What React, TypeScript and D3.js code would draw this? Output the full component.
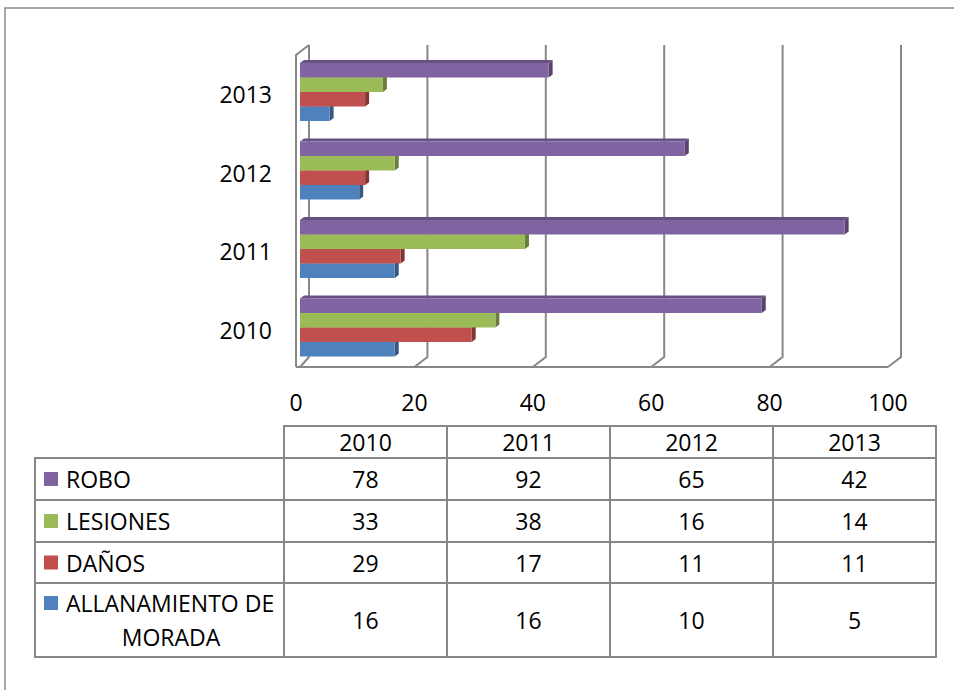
import React from 'react';
import * as d3 from 'd3';

const years = ['2010', '2011', '2012', '2013'];
const seriesNames = ['ROBO', 'LESIONES', 'DAÑOS', 'ALLANAMIENTO DE MORADA'];
const robo = [78, 92, 65, 42];
const lesiones = [33, 38, 16, 14];
const danos = [29, 17, 11, 11];
const allanamiento = [16, 16, 10, 5];
const xTicks = [0, 20, 40, 60, 80, 100];

const seriesValues = [robo, lesiones, danos, allanamiento];
const colors = ['#8064A2', '#9BBB59', '#C0504D', '#4F81BD'];

const W = 954;
const H = 690;
const FONT = "'Open Sans', sans-serif";
const FS = 23;
const GRID = '#878787';

// 3d offsets: back wall and bar depth
const backDx = 13, backDy = 10;
const barDx = 4, barDy = 3;
const floorY = 367;
const wallTop = 55;

const App = () => {
  const x = d3.scaleLinear().domain([0, 100]).range([296, 888]);
  const y = d3.scaleBand().domain([...years].reverse()).range([52, 366]);
  const inner = d3.scaleBand().domain(seriesNames).range([11, 69]);
  const bh = inner.bandwidth();

  // table layout
  const col = d3.scaleBand().domain(years).range([284, 936]);
  const tableLeft = 35;
  const headerTop = 426;
  const rowEdges = [458, 500, 542, 583, 657];

  const bars: JSX.Element[] = [];
  years.forEach((yr, yi) => {
    // draw bottom series first so upper bars cover lower top faces
    for (let si = seriesNames.length - 1; si >= 0; si--) {
      const v = seriesValues[si][yi];
      const x0 = x(0) + barDx;
      const x1 = x(v) + barDx;
      const y0 = (y(yr) as number) + (inner(seriesNames[si]) as number);
      const c = d3.color(colors[si])!;
      const top = c.darker(0.6).formatHex();
      const side = c.darker(1.1).formatHex();
      bars.push(
        <g key={yr + si}>
          <polygon
            points={`${x0},${y0} ${x0 + barDx},${y0 - barDy} ${x1 + barDx},${y0 - barDy} ${x1},${y0}`}
            fill={top}
          />
          <polygon
            points={`${x1},${y0} ${x1 + barDx},${y0 - barDy} ${x1 + barDx},${y0 + bh - barDy} ${x1},${y0 + bh}`}
            fill={side}
          />
          <rect x={x0} y={y0} width={x1 - x0} height={bh} fill={colors[si]} />
        </g>
      );
    }
  });

  return (
    <svg width={W} height={H} style={{ position: 'absolute', left: 0, top: 0 }} fontFamily={FONT}>
      <rect width={W} height={H} fill="#fff" />
      {/* outer frame */}
      <path d={`M5,${H} L5,8 L${W},8`} fill="none" stroke="#8c8c8c" strokeWidth={1.5} />

      {/* back wall gridlines and floor */}
      <g stroke={GRID} strokeWidth={2} fill="none">
        {xTicks.map(t => (
          <path
            key={t}
            d={`M${x(t) + backDx},${wallTop - backDy} L${x(t) + backDx},${floorY - backDy} L${x(t) + (t === 0 ? 4 : 0)},${floorY}`}
          />
        ))}
        <path d={`M${x(0)},${floorY} L${x(0)},${wallTop} L${x(0) + backDx},${wallTop - backDy}`} />
        <path d={`M${x(0)},${floorY} L${x(100)},${floorY}`} />
      </g>

      {bars}

      {/* category labels */}
      {years.map(yr => (
        <text
          key={yr}
          x={272}
          y={(y(yr) as number) + y.bandwidth() / 2 + 3}
          textAnchor="end"
          dominantBaseline="central"
          fontSize={FS}
        >
          {yr}
        </text>
      ))}

      {/* value axis labels */}
      {xTicks.map(t => (
        <text key={t} x={x(t)} y={402} textAnchor="middle" dominantBaseline="central" fontSize={FS}>
          {t}
        </text>
      ))}

      {/* data table */}
      <g stroke={GRID} strokeWidth={2} fill="none">
        {years.map(yr => (
          <rect key={yr} x={col(yr)} y={headerTop} width={col.bandwidth()} height={rowEdges[0] - headerTop} />
        ))}
        {seriesNames.map((s, si) => (
          <g key={s}>
            <rect x={tableLeft} y={rowEdges[si]} width={(col('2010') as number) - tableLeft} height={rowEdges[si + 1] - rowEdges[si]} />
            {years.map(yr => (
              <rect key={yr} x={col(yr)} y={rowEdges[si]} width={col.bandwidth()} height={rowEdges[si + 1] - rowEdges[si]} />
            ))}
          </g>
        ))}
      </g>
      {years.map(yr => (
        <text
          key={yr}
          x={(col(yr) as number) + col.bandwidth() / 2}
          y={(headerTop + rowEdges[0]) / 2}
          textAnchor="middle"
          dominantBaseline="central"
          fontSize={FS}
        >
          {yr}
        </text>
      ))}
      {seriesNames.map((s, si) => {
        const cy = (rowEdges[si] + rowEdges[si + 1]) / 2;
        const twoLine = s.length > 16;
        return (
          <g key={s}>
            <rect x={44} y={(twoLine ? cy - 17 : cy) - 7} width={14} height={14} fill={colors[si]} />
            {twoLine ? (
              <>
                <text x={66} y={cy - 17} dominantBaseline="central" fontSize={FS}>ALLANAMIENTO DE</text>
                <text x={171} y={cy + 17} textAnchor="middle" dominantBaseline="central" fontSize={FS}>MORADA</text>
              </>
            ) : (
              <text x={66} y={cy} dominantBaseline="central" fontSize={FS}>{s}</text>
            )}
            {years.map((yr, yi) => (
              <text
                key={yr}
                x={(col(yr) as number) + col.bandwidth() / 2}
                y={cy}
                textAnchor="middle"
                dominantBaseline="central"
                fontSize={FS}
              >
                {seriesValues[si][yi]}
              </text>
            ))}
          </g>
        );
      })}
    </svg>
  );
};

export default App;
